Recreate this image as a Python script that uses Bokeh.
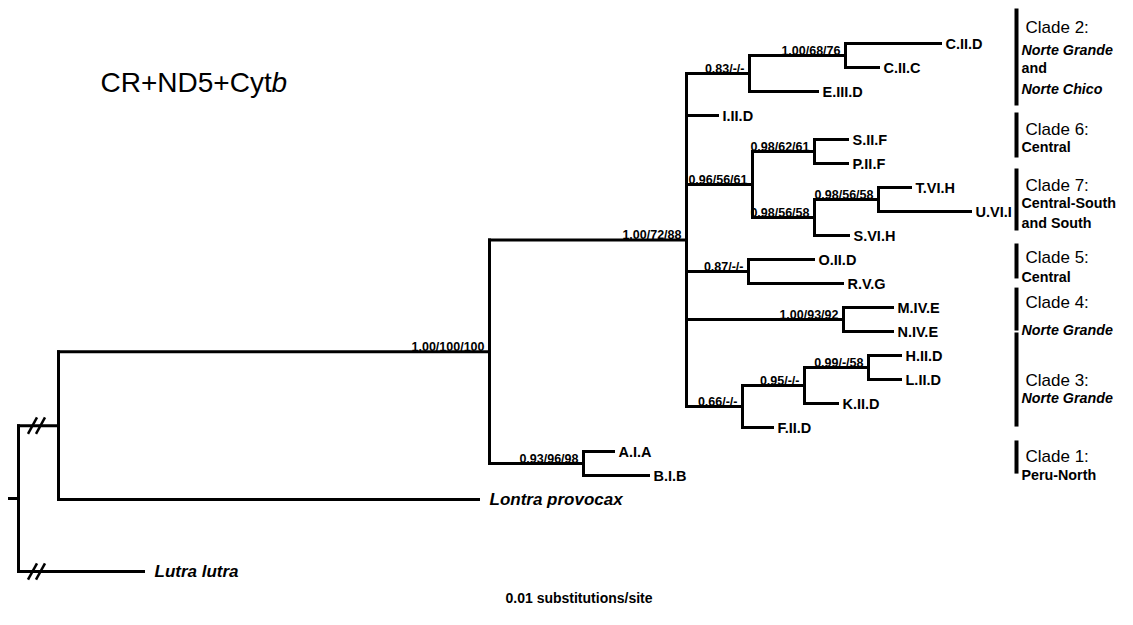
from bokeh.plotting import figure
from bokeh.models import Range1d, Label
from bokeh.embed import file_html
from bokeh.resources import INLINE
from bokeh.core.properties import value

# ---------------- data ----------------
# internal nodes: name, parent, depth (branch-length units), support (BI/MP/ML)
node_names = ["root", "outg", "ingroup", "peru", "chile", "c2", "c2a", "c67", "c6",
              "c7", "c7a", "c5", "c4", "c3", "c3a", "c3b"]
node_parents = [None, "root", "outg", "ingroup", "ingroup", "chile", "c2", "chile", "c67",
                "c67", "c7", "chile", "chile", "chile", "c3", "c3a"]
node_depths = [18, 58, 489, 583, 686, 749, 845, 752, 814, 814, 878, 748, 843, 742, 804, 868]
node_support = ["", "", "1.00/100/100", "0.93/96/98", "1.00/72/88", "0.83/-/-", "1.00/68/76",
                "0.96/56/61", "0.98/62/61", "0.98/56/58", "0.98/56/58", "0.87/-/-",
                "1.00/93/92", "0.66/-/-", "0.95/-/-", "0.99/-/58"]

# tips: name, parent, depth, row order
tip_names = ["C.II.D", "C.II.C", "E.III.D", "I.II.D", "S.II.F", "P.II.F", "T.VI.H", "U.VI.I",
             "S.VI.H", "O.II.D", "R.V.G", "M.IV.E", "N.IV.E", "H.II.D", "L.II.D", "K.II.D",
             "F.II.D", "A.I.A", "B.I.B", "Lontra provocax", "Lutra lutra"]
tip_parents = ["c2a", "c2a", "c2", "chile", "c6", "c6", "c7a", "c7a", "c7", "c5", "c5",
               "c4", "c4", "c3b", "c3b", "c3a", "c3", "peru", "peru", "outg", "root"]
tip_depths = [940, 878, 817, 717, 847, 847, 910, 970, 848, 813, 842, 892, 892, 900, 900,
              837, 772, 613, 648, 478, 143]
tip_rows = [0, 1, 2, 3, 4, 5, 6, 7, 8, 9, 10, 11, 12, 13, 14, 15, 16, 17, 18, 19, 22]
species_tips = ["Lontra provocax", "Lutra lutra"]

root_stub_start = 9
broken_branches = ["outg", "Lutra lutra"]
break_centers = [32, 40]

clade_titles = ["Clade 2:", "Clade 6:", "Clade 7:", "Clade 5:", "Clade 4:", "Clade 3:", "Clade 1:"]
clade_bar_top = [-1.46, 2.88, 5.21, 8.33, 10.17, 12.04, 16.54]
clade_bar_bottom = [2.58, 4.75, 7.79, 9.79, 11.96, 15.96, 17.92]
clade_title_rows = [-0.67, 3.58, 5.92, 8.92, 10.79, 14.04, 17.21]
clade_regions = [["Norte Grande", "and", "Norte Chico"], ["Central"], ["Central-South", "and South"],
                 ["Central"], ["Norte Grande"], ["Norte Grande"], ["Peru-North"]]
clade_region_rows = [[0.29, 1.04, 1.88], [4.33], [6.63, 7.46], [9.71], [11.92], [14.79], [17.96]]
italic_regions = ["Norte Grande", "Norte Chico"]

title_main = "CR+ND5+Cyt"
title_italic = "b"
scale_text = "0.01 substitutions/site"

FONT = value("Liberation Sans")

# ---------------- layout ----------------
parent = {}
depth = {}
for n, pa, d in zip(node_names, node_parents, node_depths):
    parent[n] = pa
    depth[n] = d
for n, pa, d in zip(tip_names, tip_parents, tip_depths):
    parent[n] = pa
    depth[n] = d
children = {n: [] for n in node_names}
for n in node_names + tip_names:
    if parent[n] is not None:
        children[parent[n]].append(n)

ypos = {n: r for n, r in zip(tip_names, tip_rows)}


def get_y(n):
    if n not in ypos:
        ys = [get_y(c) for c in children[n]]
        ypos[n] = (min(ys) + max(ys)) / 2.0
    return ypos[n]


get_y("root")

x0, y0, x1, y1 = [], [], [], []
for n in node_names + tip_names:
    if parent[n] is None:
        x0.append(root_stub_start); x1.append(depth[n])
    else:
        x0.append(depth[parent[n]]); x1.append(depth[n])
    y0.append(ypos[n]); y1.append(ypos[n])
for n in node_names:
    ys = [ypos[c] for c in children[n]]
    x0.append(depth[n]); x1.append(depth[n])
    y0.append(min(ys)); y1.append(max(ys))

p = figure(width=1117, height=609, x_range=Range1d(0, 1117), y_range=Range1d(23.583, -1.7917),
           output_backend="svg", toolbar_location=None, min_border=0,
           x_axis_type=None, y_axis_type=None)
p.grid.visible = False
p.outline_line_color = None
p.background_fill_color = "white"

p.segment(x0=x0, y0=y0, x1=x1, y1=y1, line_color="black", line_width=3, line_cap="square")

# break marks
bx0, by0, bx1, by1 = [], [], [], []
for n in broken_branches:
    for c in break_centers:
        bx0.append(c - 4.5); by0.append(ypos[n] + 0.34)
        bx1.append(c + 4.5); by1.append(ypos[n] - 0.34)
p.segment(x0=bx0, y0=by0, x1=bx1, y1=by1, line_color="black", line_width=2.5)

# support labels
sx, sy, st = [], [], []
for n, s in zip(node_names, node_support):
    if s:
        sx.append(depth[n]); sy.append(ypos[n]); st.append(s)
p.text(x=sx, y=sy, text=st, text_font=FONT, text_font_size="12.5px", text_font_style="bold",
       text_align="right", text_baseline="alphabetic", x_offset=-5, y_offset=-5, text_color="black")

# tip labels
reg = [n for n in tip_names if n not in species_tips]
p.text(x=[depth[n] for n in reg], y=[ypos[n] for n in reg], text=reg, text_font=FONT,
       text_font_size="14.5px", text_font_style="bold", text_align="left", text_baseline="middle",
       x_offset=5, text_color="black")
p.text(x=[depth[n] for n in species_tips], y=[ypos[n] for n in species_tips], text=species_tips,
       text_font=FONT, text_font_size="17px", text_font_style="bold italic", text_align="left",
       text_baseline="middle", x_offset=11, text_color="black")

# clade bars and labels
nc = len(clade_titles)
p.segment(x0=[1016] * nc, y0=clade_bar_top, x1=[1016] * nc, y1=clade_bar_bottom,
          line_color="black", line_width=4)
p.text(x=[1025] * nc, y=clade_title_rows, text=clade_titles, text_font=FONT,
       text_font_size="17px", text_align="left", text_baseline="alphabetic", text_color="black")
rx_b, ry_b, rt_b, rx_i, ry_i, rt_i = [], [], [], [], [], []
for lines, rows in zip(clade_regions, clade_region_rows):
    for t, r in zip(lines, rows):
        if t in italic_regions:
            rx_i.append(1021); ry_i.append(r); rt_i.append(t)
        else:
            rx_b.append(1021); ry_b.append(r); rt_b.append(t)
p.text(x=rx_b, y=ry_b, text=rt_b, text_font=FONT, text_font_size="14.3px", text_font_style="bold",
       text_align="left", text_baseline="alphabetic", text_color="black")
p.text(x=rx_i, y=ry_i, text=rt_i, text_font=FONT, text_font_size="14.3px",
       text_font_style="bold italic", text_align="left", text_baseline="alphabetic", text_color="black")

# title
p.add_layout(Label(x=100, y=1.625, text=title_main, text_font="Liberation Sans", text_font_size="28px",
                   text_baseline="alphabetic", text_color="black"))
p.add_layout(Label(x=100, y=1.625, x_offset=171, text=title_italic, text_font="Liberation Sans",
                   text_font_size="28px", text_font_style="italic", text_baseline="alphabetic",
                   text_color="black"))

# scale caption
p.add_layout(Label(x=505, y=23.1, text=scale_text, text_font="Liberation Sans", text_font_size="14px",
                   text_font_style="bold", text_baseline="alphabetic", text_color="black"))

open("out.html", "w").write(file_html(p, INLINE))
